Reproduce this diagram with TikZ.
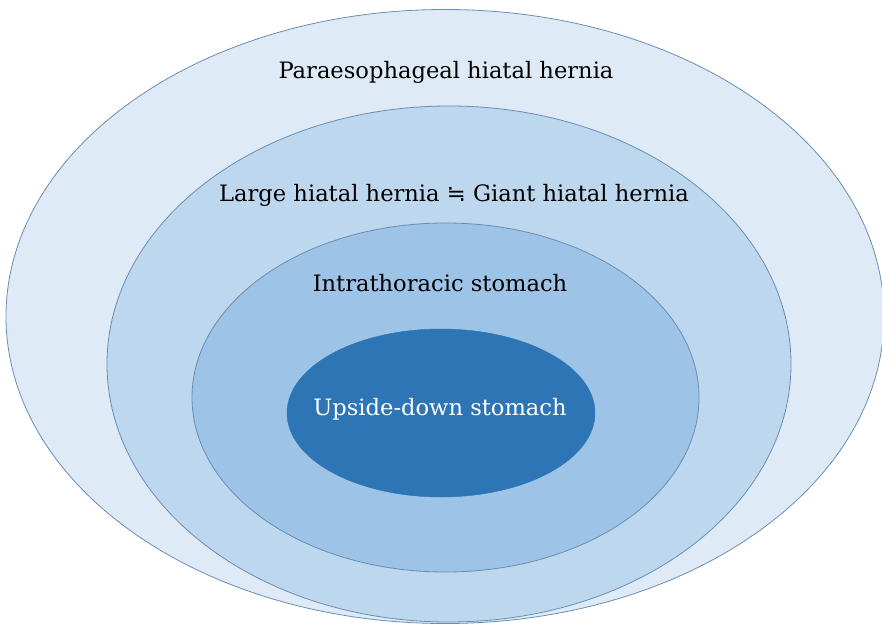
\documentclass[tikz,border=0pt]{standalone}
\usepackage{fontspec}
\setmainfont{DejaVu Serif}
\newfontfamily\symfont{DejaVu Sans}
\usetikzlibrary{shapes.geometric}
\definecolor{ringA}{HTML}{DEEBF7}
\definecolor{ringB}{HTML}{BDD7EE}
\definecolor{ringC}{HTML}{9DC3E6}
\definecolor{ringD}{HTML}{2E75B6}
\definecolor{edgeblue}{HTML}{6A8DB3}
\begin{document}
\begin{tikzpicture}[x=1pt,y=-1pt,
  ring/.style={ellipse, draw=edgeblue, line width=0.8pt, inner sep=0pt},
  lbl/.style={font=\fontsize{22.6}{26}\selectfont, text=black, inner sep=0pt}]
\useasboundingbox (0,0) rectangle (882,623);
\clip (0,0) rectangle (882,623);
\node[ring, fill=ringA, minimum width=878pt, minimum height=614pt] (outer) at (445,316.5) {};
\node[ring, fill=ringB, minimum width=684pt, minimum height=516pt] (large) at (449,364) {};
\node[ring, fill=ringC, minimum width=507pt, minimum height=349pt] (intra) at (445.5,397.5) {};
\node[ellipse, fill=ringD, draw=ringD, inner sep=0pt, minimum width=308pt, minimum height=168pt] (upside) at (441,413) {};
\node[lbl] (t1) at (446,72) {Paraesophageal hiatal hernia};
\node[lbl] (t2) at (454,195) {Large hiatal hernia {\symfont ≒} Giant hiatal hernia};
\node[lbl] (t3) at (440,283) {Intrathoracic stomach};
\node[lbl, text=white] (t4) at (440,409) {Upside-down stomach};
\end{tikzpicture}
\end{document}
